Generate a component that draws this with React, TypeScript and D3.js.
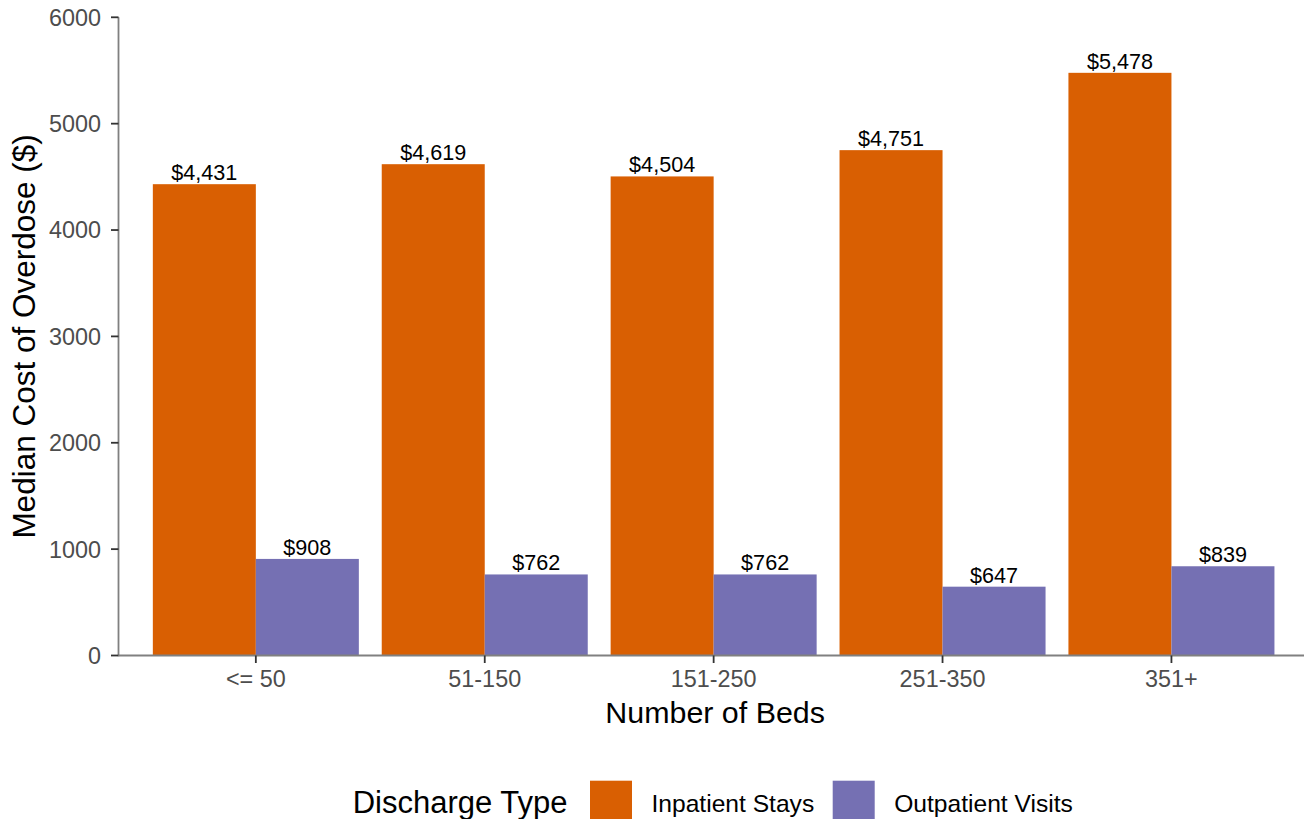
import React from 'react';
import * as d3 from 'd3';

// Chart data
const bedCategories: string[] = ['<= 50', '51-150', '151-250', '251-350', '351+'];
const dischargeTypes: string[] = ['Inpatient Stays', 'Outpatient Visits'];
const inpatientCost: number[] = [4431, 4619, 4504, 4751, 5478];
const outpatientCost: number[] = [908, 762, 762, 647, 839];
const yTicks: number[] = [0, 1000, 2000, 3000, 4000, 5000, 6000];

const colors: string[] = ['#D95F02', '#7570B3'];

const width = 1304;
const height = 819;
const font = '"Liberation Sans", Arial, sans-serif';

const App: React.FC = () => {
    const plotLeft = 118.5;
    const plotTop = 17.3;
    const plotBottom = 655.5;

    // ggplot-like discrete expansion of 0.6 units on each side
    const step = 228.9;
    const plotRight = plotLeft + step * 5.2;
    const xScale = d3.scaleBand<string>()
        .domain(bedCategories)
        .range([plotLeft, plotRight])
        .paddingInner(0)
        .paddingOuter(0.1);

    const bw = xScale.bandwidth();
    const xSub = d3.scaleBand<string>()
        .domain(dischargeTypes)
        .range([bw * 0.05, bw * 0.95])
        .padding(0);

    const yScale = d3.scaleLinear()
        .domain([0, 6000])
        .range([plotBottom, plotTop]);

    const series = [inpatientCost, outpatientCost];
    const fmt = d3.format('$,');

    const axisColor = '#808080';
    const tickText = '#4d4d4d';

    return (
        <div style={{ position: 'absolute', left: 0, top: 0 }}>
            <svg width={width} height={height} style={{ display: 'block', background: '#fff' }}>
                {/* bars */}
                {series.map((vals, si) => (
                    <g key={si}>
                        {bedCategories.map((cat, ci) => {
                            const x = (xScale(cat) as number) + (xSub(dischargeTypes[si]) as number);
                            const y = yScale(vals[ci]);
                            return (
                                <g key={cat}>
                                    <rect x={x} y={y} width={xSub.bandwidth()} height={plotBottom - y}
                                        fill={colors[si]} />
                                    <text x={x + xSub.bandwidth() / 2} y={y - 4} textAnchor="middle"
                                        fontFamily={font} fontSize={21.6} fill="#000">
                                        {fmt(vals[ci])}
                                    </text>
                                </g>
                            );
                        })}
                    </g>
                ))}

                {/* y axis */}
                <line x1={plotLeft} x2={plotLeft} y1={plotTop} y2={plotBottom + 0.75}
                    stroke={axisColor} strokeWidth={1.8} />
                {yTicks.map(t => (
                    <g key={t}>
                        <line x1={plotLeft - 7.5} x2={plotLeft} y1={yScale(t)} y2={yScale(t)}
                            stroke="#333" strokeWidth={1.8} />
                        <text x={101} y={yScale(t)} dy="0.36em" textAnchor="end"
                            fontFamily={font} fontSize={23.4} fill={tickText}>
                            {t}
                        </text>
                    </g>
                ))}

                {/* x axis */}
                <line x1={plotLeft} x2={width} y1={plotBottom} y2={plotBottom}
                    stroke={axisColor} strokeWidth={1.8} />
                {bedCategories.map(cat => {
                    const cx = (xScale(cat) as number) + bw / 2;
                    return (
                        <g key={cat}>
                            <line x1={cx} x2={cx} y1={plotBottom} y2={plotBottom + 7.5}
                                stroke="#333" strokeWidth={1.8} />
                            <text x={cx} y={686.7} textAnchor="middle"
                                fontFamily={font} fontSize={23.4} fill={tickText}>
                                {cat}
                            </text>
                        </g>
                    );
                })}

                {/* axis titles */}
                <text x={(plotLeft + plotRight) / 2 + 1.5} y={723.3} textAnchor="middle"
                    fontFamily={font} fontSize={30.4} fill="#000">
                    Number of Beds
                </text>
                <text transform={`translate(35,${(plotTop + plotBottom) / 2}) rotate(-90)`}
                    textAnchor="middle" fontFamily={font} fontSize={31.5} fill="#000">
                    Median Cost of Overdose ($)
                </text>

                {/* legend */}
                <text x={352.7} y={813} fontFamily={font} fontSize={31} fill="#000">
                    Discharge Type
                </text>
                {dischargeTypes.map((d, i) => {
                    const keyX = [590, 832.7][i];
                    return (
                        <g key={d}>
                            <rect x={keyX} y={780.7} width={42} height={42} fill={colors[i]} />
                            <text x={keyX + 61.5} y={812} fontFamily={font} fontSize={24.6} fill="#000">
                                {d}
                            </text>
                        </g>
                    );
                })}
            </svg>
        </div>
    );
};

export default App;
